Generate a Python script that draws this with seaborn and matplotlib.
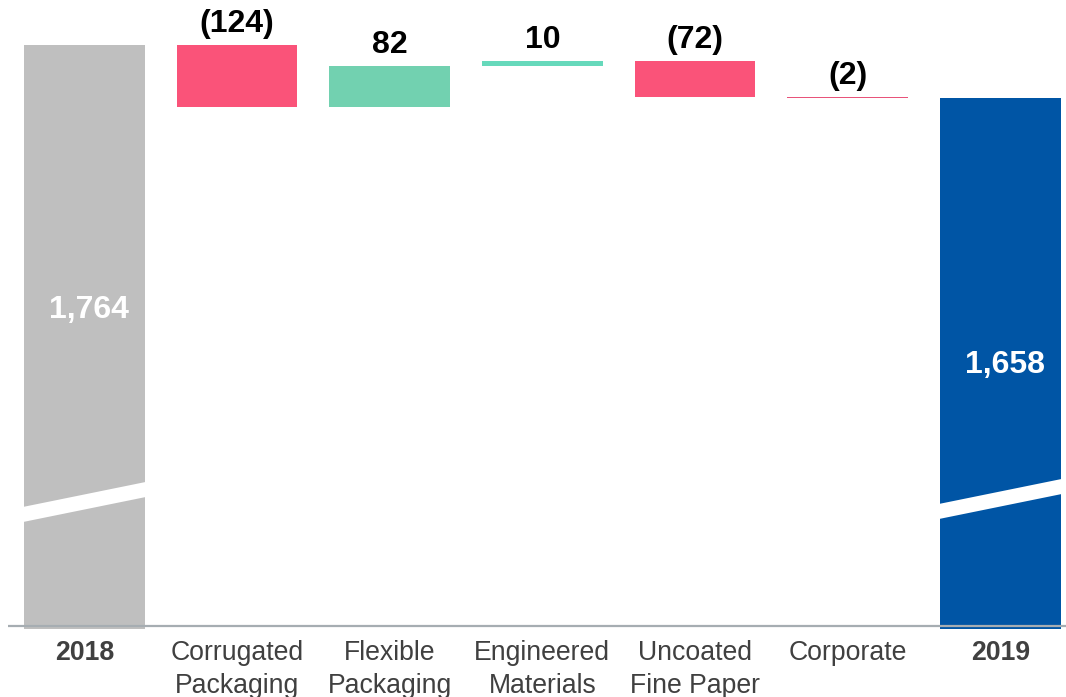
import numpy as np
import matplotlib
matplotlib.use("Agg")
import matplotlib.pyplot as plt
import seaborn as sns

# Bridge data (net sales, $m)
categories = ["2018", "Corrugated\nPackaging", "Flexible\nPackaging",
              "Engineered\nMaterials", "Uncoated\nFine Paper", "Corporate", "2019"]
start_total = 1764
changes = [-124, 82, 10, -72, -2]
end_total = 1658
value_labels = ["1,764", "(124)", "82", "10", "(72)", "(2)", "1,658"]
bar_colors = ["#BFBFBF", "#FA5379", "#72D1B0", "#66D9BB", "#FA5379", "#E8537A", "#0055A5"]

# Floating-bar geometry for the waterfall
running = np.concatenate([[start_total], start_total + np.cumsum(changes)])
bottoms = [0.0]
heights = [float(start_total)]
for prev, ch in zip(running[:-1], changes):
    bottoms.append(float(min(prev, prev + ch)))
    heights.append(float(abs(ch)))
bottoms.append(0.0)
heights.append(float(end_total))
tops = np.array(bottoms) + np.array(heights)

sns.set_theme(style="white")
plt.rcParams["font.family"] = ["Liberation Sans", "DejaVu Sans"]

fig = plt.figure(figsize=(10.66, 6.97), dpi=100)
ax = fig.add_axes([8 / 1066, 68 / 697, 1 - 8 / 1066, 629 / 697])

sns.barplot(x=categories, y=heights, bottom=bottoms, color="#BFBFBF",
            width=0.79, saturation=1, ax=ax, linewidth=0)
for patch, col in zip(ax.patches, bar_colors):
    patch.set_facecolor(col)
    patch.set_edgecolor(col)

y_floor = 600
ax.set_ylim(y_floor, 1853)
ax.set_xlim(-0.5, 6.43)

# Axis break marks on the two total bars
for idx, lo in [(0, 812), (6, 818)]:
    xl, xr = idx - 0.42, idx + 0.42
    rise, thick = 52, 30
    ax.fill([xl, xr, xr, xl], [lo, lo + rise, lo + rise + thick, lo + thick],
            color="white", zorder=3, linewidth=0)

# Value labels
for i, (lab, top) in enumerate(zip(value_labels, tops)):
    if i in (0, 6):
        continue
    ax.annotate(lab, (i, top), xytext=(0, 4), textcoords="offset points",
                ha="center", va="bottom", fontsize=23, fontweight="bold",
                color="black")
ax.text(0.03, 1236, value_labels[0], ha="center", va="center", fontsize=23,
        fontweight="bold", color="white", zorder=4)
ax.text(6.03, 1126, value_labels[-1], ha="center", va="center", fontsize=23,
        fontweight="bold", color="white", zorder=4)

# Baseline
for s in ax.spines.values():
    s.set_visible(False)
ax.axhline(606, color="#A6ADB2", lw=1.6, zorder=5)

ax.set_yticks([])
ax.set_ylabel("")
ax.tick_params(axis="x", length=0, pad=8, labelsize=19.2, labelcolor="#404040")
for i, t in enumerate(ax.get_xticklabels()):
    t.set_linespacing(1.32)
    if i in (0, 6):
        t.set_fontweight("bold")

fig.savefig("out.png", dpi=100, facecolor="white")
